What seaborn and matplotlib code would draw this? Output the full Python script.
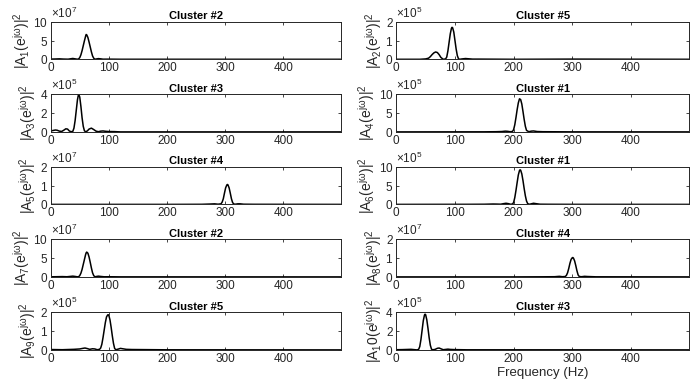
import numpy as np
import pandas as pd
import matplotlib
matplotlib.use("Agg")
import matplotlib.pyplot as plt
from matplotlib.ticker import ScalarFormatter
import seaborn as sns

# ---------------- data (values in units of 10^exponent) ----------------
titles = ["Cluster #2", "Cluster #5", "Cluster #3", "Cluster #1", "Cluster #4",
          "Cluster #1", "Cluster #2", "Cluster #4", "Cluster #5", "Cluster #3"]
exponents = [7, 5, 5, 5, 7, 5, 7, 7, 5, 5]
ytops = [10, 2, 4, 10, 2, 10, 10, 2, 2, 4]
ylabels = [r"$|A_1(e^{j\omega})|^2$", r"$|A_2(e^{j\omega})|^2$", r"$|A_3(e^{j\omega})|^2$",
           r"$|A_4(e^{j\omega})|^2$", r"$|A_5(e^{j\omega})|^2$", r"$|A_6(e^{j\omega})|^2$",
           r"$|A_7(e^{j\omega})|^2$", r"$|A_8(e^{j\omega})|^2$", r"$|A_9(e^{j\omega})|^2$",
           r"$|A_1 0(e^{j\omega})|^2$"]
xticks = [0, 100, 200, 300, 400]

f1 = [0, 8, 15, 22, 30, 35, 38, 42, 46, 48, 50, 52, 54, 56, 58, 60, 61, 62, 64, 66, 68, 70, 72, 74, 76, 79, 82, 86, 90, 100, 120, 499]
v1 = [0.05, 0.08, 0.12, 0.06, 0.03, 0.15, 0.22, 0.12, 0.02, 0.1, 0.45, 1.2, 2.3, 3.6, 4.9, 6.1, 6.6, 6.5, 5.8, 4.6, 3.3, 2.0, 0.9, 0.3, 0.03, 0.1, 0.18, 0.12, 0.03, 0.04, 0.01, 0.0]

f2 = [0, 40, 50, 55, 58, 61, 64, 67, 70, 73, 76, 80, 84, 86, 88, 90, 92, 94, 95, 96, 98, 100, 102, 104, 106, 108, 112, 118, 122, 130, 140, 200, 300, 499]
v2 = [0.0, 0.0, 0.02, 0.06, 0.14, 0.25, 0.34, 0.39, 0.36, 0.25, 0.1, 0.0, 0.02, 0.12, 0.45, 0.9, 1.35, 1.65, 1.7, 1.68, 1.45, 1.0, 0.55, 0.2, 0.03, 0.0, 0.02, 0.04, 0.03, 0.01, 0.01, 0.0, 0.01, 0.0]

f3 = [0, 4, 8, 11, 15, 19, 23, 26, 29, 32, 35, 38, 40, 42, 44, 46, 48, 50, 52, 54, 56, 58, 60, 63, 66, 70, 74, 78, 82, 86, 90, 95, 100, 110, 120, 499]
v3 = [0.1, 0.15, 0.2, 0.18, 0.08, 0.05, 0.2, 0.33, 0.3, 0.1, 0.02, 0.05, 0.4, 1.2, 2.3, 3.4, 4.05, 3.7, 2.7, 1.5, 0.6, 0.12, 0.02, 0.1, 0.3, 0.4, 0.25, 0.08, 0.02, 0.08, 0.1, 0.06, 0.04, 0.03, 0.0, 0.0]

f4 = [0, 150, 170, 180, 186, 190, 194, 198, 200, 202, 204, 206, 208, 210, 212, 214, 216, 218, 220, 222, 226, 230, 234, 240, 250, 300, 499]
v4 = [0, 0.02, 0.05, 0.1, 0.2, 0.15, 0.05, 0.1, 0.6, 1.9, 3.8, 5.9, 7.7, 8.8, 8.6, 7.4, 5.4, 3.3, 1.5, 0.4, 0.05, 0.2, 0.25, 0.1, 0.05, 0.01, 0]

f5 = [0, 200, 260, 275, 282, 288, 293, 295, 297, 299, 301, 303, 304, 305, 307, 309, 311, 313, 315, 318, 322, 326, 332, 350, 499]
v5 = [0, 0.0, 0.005, 0.02, 0.03, 0.01, 0.03, 0.12, 0.3, 0.6, 0.88, 1.03, 1.06, 1.04, 0.88, 0.6, 0.3, 0.1, 0.02, 0.01, 0.03, 0.03, 0.01, 0.005, 0]

f6 = [0, 120, 150, 165, 172, 178, 183, 187, 191, 195, 198, 200, 202, 204, 206, 208, 210, 211, 212, 214, 216, 218, 220, 222, 224, 227, 230, 234, 238, 245, 260, 300, 499]
v6 = [0, 0.02, 0.04, 0.1, 0.08, 0.05, 0.2, 0.3, 0.2, 0.03, 0.1, 0.5, 1.8, 3.7, 5.8, 7.8, 9.0, 9.2, 9.1, 8.1, 6.3, 4.2, 2.3, 0.9, 0.2, 0.03, 0.15, 0.3, 0.2, 0.05, 0.03, 0.01, 0]

f7 = [0, 10, 20, 28, 35, 38, 42, 46, 48, 50, 52, 54, 56, 58, 60, 61, 62, 64, 66, 68, 70, 72, 74, 76, 79, 82, 86, 92, 100, 120, 499]
v7 = [0.02, 0.05, 0.08, 0.04, 0.15, 0.2, 0.12, 0.02, 0.05, 0.35, 1.0, 2.0, 3.3, 4.6, 5.9, 6.4, 6.6, 6.3, 5.3, 3.9, 2.4, 1.1, 0.35, 0.03, 0.12, 0.2, 0.12, 0.03, 0.04, 0.01, 0]

f8 = [0, 200, 250, 270, 278, 283, 288, 290, 292, 294, 296, 298, 300, 301, 302, 304, 306, 308, 310, 312, 316, 321, 326, 340, 499]
v8 = [0, 0.0, 0.005, 0.01, 0.03, 0.01, 0.02, 0.08, 0.22, 0.45, 0.72, 0.93, 1.02, 1.03, 1.0, 0.85, 0.6, 0.32, 0.1, 0.02, 0.01, 0.03, 0.02, 0.005, 0]

f9 = [0, 20, 40, 50, 55, 59, 63, 67, 72, 76, 80, 84, 86, 88, 90, 92, 94, 96, 98, 99, 100, 102, 104, 106, 108, 110, 112, 116, 120, 124, 130, 140, 200, 499]
v9 = [0.02, 0.01, 0.03, 0.05, 0.08, 0.1, 0.07, 0.03, 0.06, 0.05, 0.01, 0.03, 0.1, 0.3, 0.65, 1.05, 1.45, 1.75, 1.86, 1.87, 1.84, 1.6, 1.2, 0.75, 0.35, 0.08, 0.01, 0.04, 0.08, 0.06, 0.03, 0.02, 0.005, 0]

f10 = [0, 10, 20, 25, 30, 35, 38, 40, 42, 44, 46, 48, 49, 50, 52, 54, 56, 58, 60, 62, 66, 70, 73, 76, 80, 84, 88, 92, 100, 120, 499]
v10 = [0.02, 0.03, 0.05, 0.06, 0.03, 0.0, 0.05, 0.35, 1.1, 2.1, 3.1, 3.7, 3.8, 3.75, 3.2, 2.3, 1.3, 0.5, 0.08, 0.01, 0.05, 0.17, 0.2, 0.12, 0.02, 0.05, 0.08, 0.05, 0.03, 0.01, 0]

freqs = [f1, f2, f3, f4, f5, f6, f7, f8, f9, f10]
vals = [v1, v2, v3, v4, v5, v6, v7, v8, v9, v10]

# ---------------- style ----------------
sns.set_theme(style="ticks")
plt.rcParams["font.family"] = ["Liberation Sans", "DejaVu Sans"]
plt.rcParams["mathtext.fontset"] = "custom"
plt.rcParams["mathtext.rm"] = "Liberation Sans"
plt.rcParams["mathtext.it"] = "Liberation Sans:italic"
plt.rcParams["mathtext.bf"] = "Liberation Sans:bold"
plt.rcParams["mathtext.default"] = "regular"

W, H = 698, 388
fig = plt.figure(figsize=(W / 100, H / 100), dpi=100)

col_left = [50.7, 396.3]
col_width = [290.0, 292.7]
row_top = [21.7, 94.3, 166.8, 239.3, 312.3]
ax_h = 37.6
tick_color = "#262626"

for i in range(10):
    r, c = divmod(i, 2)
    left = col_left[c] / W
    bottom = (H - row_top[r] - ax_h) / H
    ax = fig.add_axes([left, bottom, col_width[c] / W, ax_h / H])
    scale = 10 ** exponents[i]
    df = pd.DataFrame({"f": freqs[i], "p": [v * scale for v in vals[i]]})
    sns.lineplot(data=df, x="f", y="p", ax=ax, color="black", linewidth=1.1,
                 estimator=None, sort=False)
    ax.set_xlim(0, 499)
    ax.set_ylim(0, ytops[i] * scale)
    ax.set_xticks(xticks)
    ax.set_yticks([0, ytops[i] / 2 * scale, ytops[i] * scale])
    fmt = ScalarFormatter(useMathText=True)
    fmt.set_powerlimits((exponents[i], exponents[i]))
    ax.yaxis.set_major_formatter(fmt)
    ax.yaxis.get_offset_text().set_fontsize(8.5)
    ax.yaxis.get_offset_text().set_color(tick_color)
    ax.tick_params(direction="in", length=2.5, width=0.6, labelsize=8.5,
                   colors=tick_color, labelcolor=tick_color, top=True, right=True, pad=2)
    for s in ax.spines.values():
        s.set_linewidth(0.7)
        s.set_color(tick_color)
        s.set_visible(True)
    ax.set_title(titles[i], fontsize=8, fontweight="bold", pad=2, color="black")
    ax.set_ylabel(ylabels[i], fontsize=10, labelpad=1, color=tick_color)
    if i == 9:
        ax.set_xlabel("Frequency (Hz)", fontsize=9.5, labelpad=2, color=tick_color)
    else:
        ax.set_xlabel("")

fig.savefig("out.png", dpi=100, facecolor="white")
